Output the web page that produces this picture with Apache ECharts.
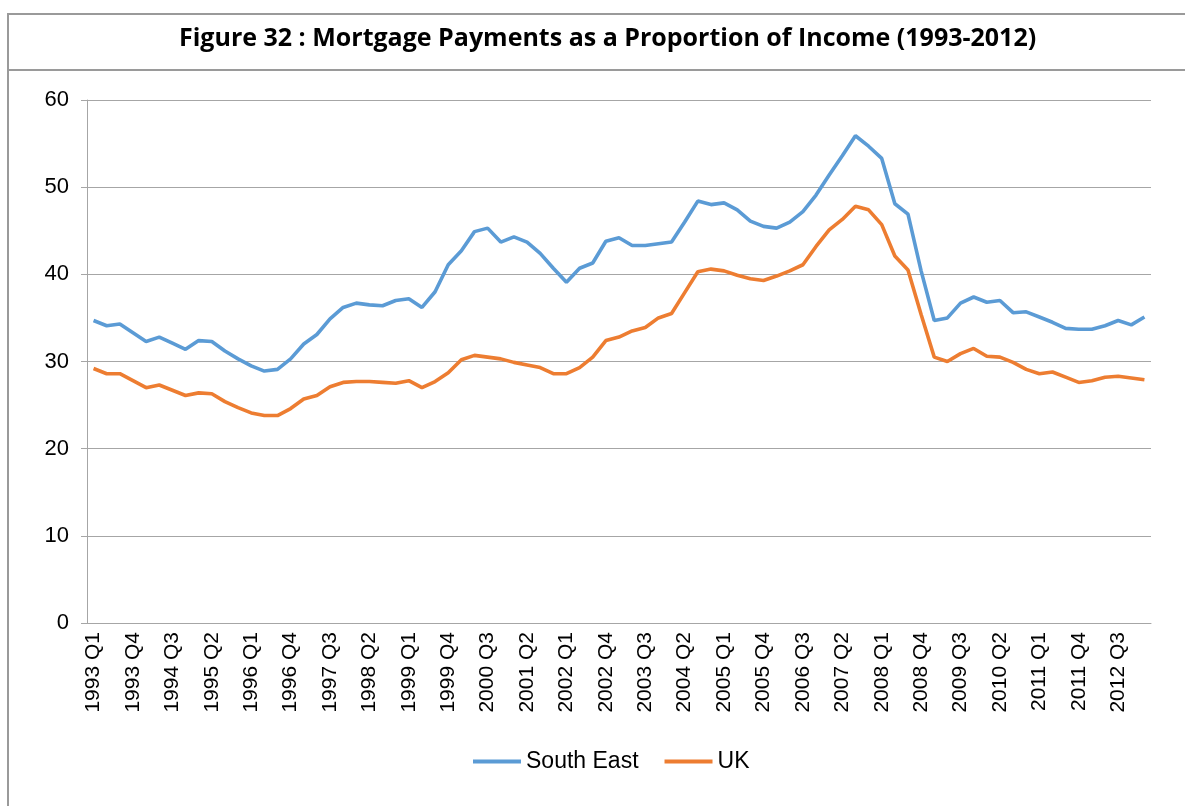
<!DOCTYPE html>
<html>
<head>
<meta charset="utf-8">
<script src="https://cdn.jsdelivr.net/npm/echarts@6/dist/echarts.min.js"></script>
<style>
  html, body { margin: 0; padding: 0; background: #fff; }
  #chart { width: 1185px; height: 806px; }
</style>
</head>
<body>
<div id="chart"></div>
<script>
// quarters 1993 Q1 .. 2013 Q1
const years = [];
for (let y = 1993; y <= 2013; y++) years.push(y);
const quarters = [];
years.forEach(y => {
    ['Q1', 'Q2', 'Q3', 'Q4'].forEach(q => quarters.push(y + ' ' + q));
});
const categories = quarters.slice(0, 81);

const southEast = [
    34.7, 34.1, 34.3, 33.3, 32.3, 32.8, 32.1, 31.4, 32.4, 32.3,
    31.2, 30.3, 29.5, 28.9, 29.1, 30.3, 32.0, 33.1, 34.9, 36.2,
    36.7, 36.5, 36.4, 37.0, 37.2, 36.2, 38.0, 41.1, 42.7, 44.9,
    45.3, 43.7, 44.3, 43.7, 42.4, 40.7, 39.1, 40.7, 41.3, 43.8,
    44.2, 43.3, 43.3, 43.5, 43.7, 46.0, 48.4, 48.0, 48.2, 47.4,
    46.1, 45.5, 45.3, 46.0, 47.2, 49.1, 51.4, 53.6, 55.9, 54.7,
    53.3, 48.1, 46.9, 40.4, 34.7, 35.0, 36.7, 37.4, 36.8, 37.0,
    35.6, 35.7, 35.1, 34.5, 33.8, 33.7, 33.7, 34.1, 34.7, 34.2,
    35.1
];

const uk = [
    29.2, 28.6, 28.6, 27.8, 27.0, 27.3, 26.7, 26.1, 26.4, 26.3,
    25.4, 24.7, 24.1, 23.8, 23.8, 24.6, 25.7, 26.1, 27.1, 27.6,
    27.7, 27.7, 27.6, 27.5, 27.8, 27.0, 27.7, 28.7, 30.2, 30.7,
    30.5, 30.3, 29.9, 29.6, 29.3, 28.6, 28.6, 29.3, 30.5, 32.4,
    32.8, 33.5, 33.9, 35.0, 35.5, 37.9, 40.3, 40.6, 40.4, 39.9,
    39.5, 39.3, 39.8, 40.4, 41.1, 43.2, 45.1, 46.3, 47.8, 47.4,
    45.7, 42.1, 40.5, 35.4, 30.5, 30.0, 30.9, 31.5, 30.6, 30.5,
    29.9, 29.1, 28.6, 28.8, 28.2, 27.6, 27.8, 28.2, 28.3, 28.1,
    27.9
];

const labelFont = '"Liberation Sans Narrow", "Arial Narrow", "Liberation Sans", sans-serif';
const axisGray = '#a6a6a6';
const frameGray = '#9a9a9a';

const chart = echarts.init(document.getElementById('chart'));

chart.setOption({
    animation: false,
    title: {
        text: 'Figure 32 : Mortgage Payments as a Proportion of Income (1993-2012)',
        left: 174,
        top: 21,
        textStyle: {
            fontFamily: '"Open Sans", sans-serif',
            fontWeight: 'bold',
            fontSize: 25,
            color: '#000'
        }
    },
    graphic: [
        {
            type: 'rect',
            shape: { x: 8, y: 14, width: 1200, height: 820 },
            style: { fill: 'none', stroke: frameGray, lineWidth: 2 },
            silent: true
        },
        {
            type: 'line',
            shape: { x1: 8, y1: 70, x2: 1185, y2: 70 },
            style: { stroke: frameGray, lineWidth: 2 },
            silent: true
        }
    ],
    legend: {
        bottom: 28,
        left: 468,
        icon: 'rect',
        itemWidth: 48,
        itemHeight: 4,
        itemGap: 26,
        textStyle: { fontFamily: labelFont, fontSize: 23, color: '#000' },
        data: ['South East', 'UK']
    },
    grid: {
        left: 87,
        right: 34,
        top: 100,
        height: 523,
        containLabel: false
    },
    xAxis: {
        type: 'category',
        data: categories,
        boundaryGap: true,
        axisLine: { lineStyle: { color: axisGray, width: 1 } },
        axisTick: {
            interval: 0,
            length: 6,
            lineStyle: { color: axisGray }
        },
        axisLabel: {
            interval: 2,
            rotate: 90,
            margin: 9,
            fontFamily: labelFont,
            fontSize: 21,
            color: '#000'
        }
    },
    yAxis: {
        type: 'value',
        min: 0,
        max: 60,
        interval: 10,
        axisLine: { show: true, lineStyle: { color: axisGray, width: 1 } },
        axisTick: { show: true, length: 6, lineStyle: { color: axisGray } },
        splitLine: { lineStyle: { color: axisGray, width: 1 } },
        axisLabel: {
            margin: 18,
            fontFamily: labelFont,
            fontSize: 22,
            color: '#000'
        }
    },
    series: [
        {
            name: 'South East',
            type: 'line',
            data: southEast,
            symbol: 'none',
            lineStyle: { color: '#5b9bd5', width: 3.6 },
            itemStyle: { color: '#5b9bd5' }
        },
        {
            name: 'UK',
            type: 'line',
            data: uk,
            symbol: 'none',
            lineStyle: { color: '#ed7d31', width: 3.6 },
            itemStyle: { color: '#ed7d31' }
        }
    ]
});
</script>
</body>
</html>
